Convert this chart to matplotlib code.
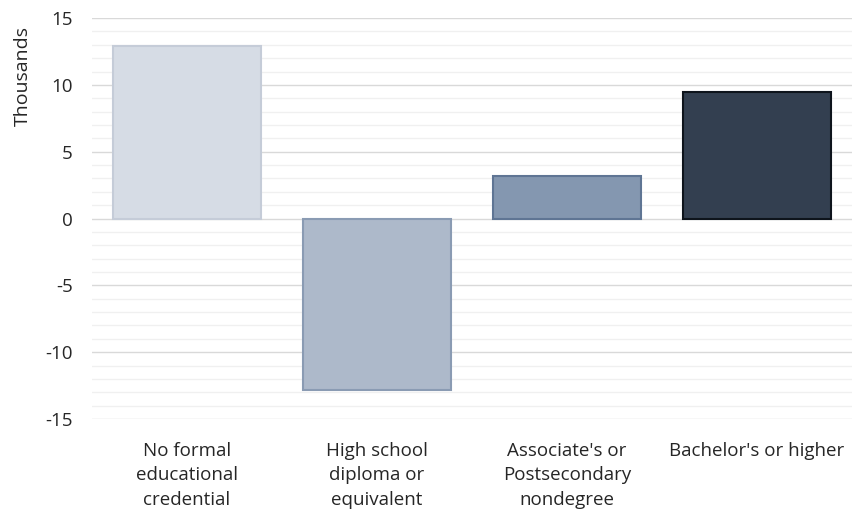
import numpy as np
import matplotlib.pyplot as plt

# Change in employment by education level (thousands)
categories = ["No formal\neducational\ncredential",
              "High school\ndiploma or\nequivalent",
              "Associate's or\nPostsecondary\nnondegree",
              "Bachelor's or higher"]
values = [12.9, -12.85, 3.15, 9.5]
fill_colors = ["#D6DCE5", "#ADB9CA", "#8497B0", "#333F50"]
edge_colors = ["#C5CCD8", "#8A9BB3", "#5F7594", "#0E141C"]

plt.rcParams['font.family'] = ['Open Sans', 'DejaVu Sans']
plt.rcParams['axes.unicode_minus'] = False

fig = plt.figure(figsize=(8.55, 5.16), dpi=100)
ax = fig.add_axes([0.1076, 0.188, 0.889, 0.777])

x = np.arange(len(categories))
ax.bar(x, values, width=0.78, color=fill_colors, edgecolor=edge_colors,
       linewidth=1.5, zorder=3)

ax.set_xlim(-0.5, len(categories) - 0.5)
ax.set_ylim(-15, 15)
ax.set_yticks(np.arange(-15, 16, 5))
ax.set_yticks(np.arange(-15, 16, 1), minor=True)
ax.grid(axis='y', which='major', color='#D9D9D9', linewidth=1.0, zorder=0)
ax.grid(axis='y', which='minor', color='#F0F0F0', linewidth=1.0, zorder=0)

for s in ax.spines.values():
    s.set_visible(False)

ax.set_xticks(x)
ax.set_xticklabels(categories, fontsize=13.5, color='#262626', linespacing=1.45)
ax.tick_params(axis='x', length=0, pad=16.5)
ax.tick_params(axis='y', which='both', length=0, labelsize=13.5,
               labelcolor='#262626', pad=14)

# display-units label sits near the top of the value axis
fig.text(0.027, 0.853, "Thousands", rotation=90, ha='center', va='center',
         fontsize=14, color='#262626')

fig.savefig("out.png", dpi=100)
